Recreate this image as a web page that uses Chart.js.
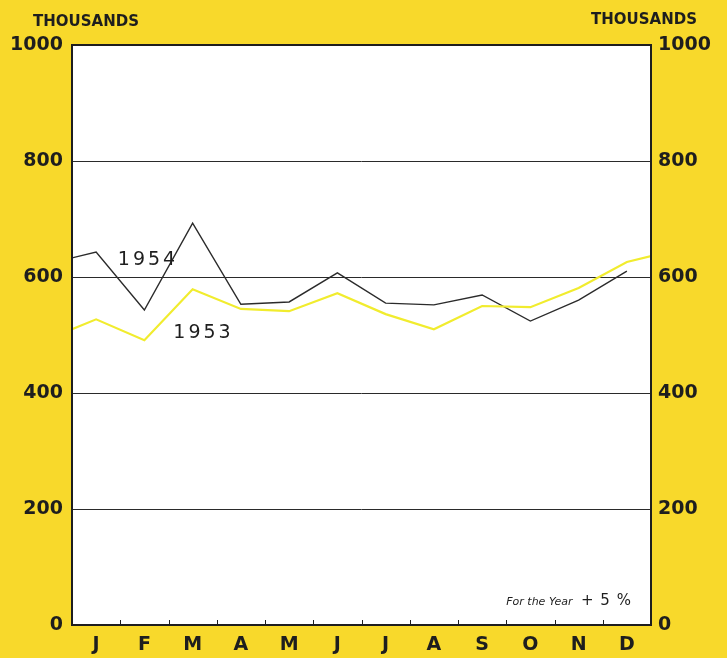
<!DOCTYPE html>
<html>
<head>
<meta charset="utf-8">
<script src="https://cdn.jsdelivr.net/npm/chart.js@4"></script>
<style>
  html, body { margin: 0; padding: 0; background: #f8d92b; }
  #wrap { width: 727px; height: 658px; }
</style>
</head>
<body>
<div id="wrap"><canvas id="chart" width="727" height="658"></canvas></div>
<script>
const months = ['J', 'F', 'M', 'A', 'M', 'J', 'J', 'A', 'S', 'O', 'N', 'D'];
const sales1954 = [643, 543, 693, 553, 557, 607, 555, 552, 569, 524, 560, 610];
const sales1953 = [527, 491, 579, 545, 541, 572, 536, 510, 550, 548, 581, 626];
// lines run in from the left edge (previous December) and 1953 runs out to the right edge
const carryIn1954 = 633;
const carryIn1953 = 510;
const carryOut1953 = 636;
const yTicks = [0, 200, 400, 600, 800, 1000];

const FONT = '"DejaVu Sans", sans-serif';
const INK = '#1e1e1e';

const toPoints = arr => arr.map((v, i) => ({ x: i + 0.5, y: v }));

const line1954 = [{ x: 0, y: carryIn1954 }, ...toPoints(sales1954)];
const line1953 = [{ x: 0, y: carryIn1953 }, ...toPoints(sales1953), { x: 12, y: carryOut1953 }];

const frame = {
    id: 'frame',
    beforeDatasetsDraw(chart) {
        const { ctx, chartArea: a } = chart;
        ctx.save();
        ctx.fillStyle = '#ffffff';
        ctx.fillRect(a.left, a.top, a.right - a.left, a.bottom - a.top);
        // horizontal rules
        const y = chart.scales.y;
        ctx.strokeStyle = '#2a2a2a';
        ctx.lineWidth = 1;
        for (const t of yTicks) {
            if (t === 0 || t === 1000) continue;
            const py = Math.round(y.getPixelForValue(t)) + 0.5;
            ctx.beginPath();
            ctx.moveTo(a.left, py);
            ctx.lineTo(a.right, py);
            ctx.stroke();
        }
        ctx.restore();
    },
    afterDatasetsDraw(chart) {
        const { ctx, chartArea: a } = chart;
        const x = chart.scales.x;
        const y = chart.scales.y;
        ctx.save();
        ctx.strokeStyle = INK;
        ctx.lineWidth = 2;
        ctx.strokeRect(a.left, a.top, a.right - a.left, a.bottom - a.top);
        // month boundary ticks, pointing into the plot
        ctx.lineWidth = 1;
        for (let i = 1; i < months.length; i++) {
            const px = Math.round(x.getPixelForValue(i)) + 0.5;
            ctx.beginPath();
            ctx.moveTo(px, a.bottom);
            ctx.lineTo(px, a.bottom - 5);
            ctx.stroke();
        }

        ctx.fillStyle = INK;
        ctx.textBaseline = 'alphabetic';
        ctx.font = 'bold 15px ' + FONT;
        ctx.textAlign = 'left';
        ctx.fillText('THOUSANDS', 33, 26);
        ctx.textAlign = 'right';
        ctx.fillText('THOUSANDS', 697, 24);

        ctx.textAlign = 'left';
        ctx.font = '19px ' + FONT;
        ctx.letterSpacing = '3px';
        ctx.fillText('1954', x.getPixelForValue(0.95), y.getPixelForValue(620));
        ctx.fillText('1953', x.getPixelForValue(2.1), y.getPixelForValue(495));
        ctx.letterSpacing = '0px';

        ctx.font = 'italic 11px ' + FONT;
        ctx.fillText('For the Year', x.getPixelForValue(9.0), y.getPixelForValue(35));
        ctx.font = '15px ' + FONT;
        ctx.letterSpacing = '1px';
        ctx.fillText('+ 5 %', x.getPixelForValue(10.55), y.getPixelForValue(35));
        ctx.restore();
    }
};

const yTickOptions = (padding) => ({
    padding,
    color: INK,
    font: { family: FONT, size: 19, weight: 'bold' },
    callback: v => String(v)
});

const config = {
    type: 'line',
    data: {
        datasets: [
            {
                label: '1953',
                data: line1953,
                borderColor: '#f1ec2e',
                borderWidth: 2.2,
                pointRadius: 0,
                tension: 0
            },
            {
                label: '1954',
                data: line1954,
                borderColor: '#2b2b2b',
                borderWidth: 1.4,
                pointRadius: 0,
                tension: 0
            }
        ]
    },
    options: {
        responsive: false,
        animation: false,
        devicePixelRatio: 1,
        layout: { padding: { top: 45, left: 0, right: 0, bottom: 0 } },
        plugins: {
            legend: { display: false },
            tooltip: { enabled: false }
        },
        scales: {
            x: {
                type: 'linear',
                min: 0,
                max: 12,
                afterFit: s => { s.height = 33; },
                afterBuildTicks: s => { s.ticks = months.map((m, i) => ({ value: i + 0.5 })); },
                grid: { display: false, drawTicks: false },
                border: { display: false },
                ticks: {
                    autoSkip: false,
                    maxRotation: 0,
                    padding: 9,
                    color: INK,
                    font: { family: FONT, size: 19, weight: 'bold' },
                    callback: (v, i) => months[i]
                }
            },
            y: {
                position: 'left',
                min: 0,
                max: 1000,
                afterFit: s => { s.width = 72; },
                afterBuildTicks: s => { s.ticks = yTicks.map(v => ({ value: v })); },
                grid: { display: false, drawTicks: false },
                border: { display: false },
                ticks: yTickOptions(9)
            },
            y2: {
                position: 'right',
                min: 0,
                max: 1000,
                afterFit: s => { s.width = 76; },
                afterBuildTicks: s => { s.ticks = yTicks.map(v => ({ value: v })); },
                grid: { display: false, drawTicks: false },
                border: { display: false },
                ticks: yTickOptions(7)
            }
        }
    },
    plugins: [frame]
};

new Chart(document.getElementById('chart'), config);
</script>
</body>
</html>
